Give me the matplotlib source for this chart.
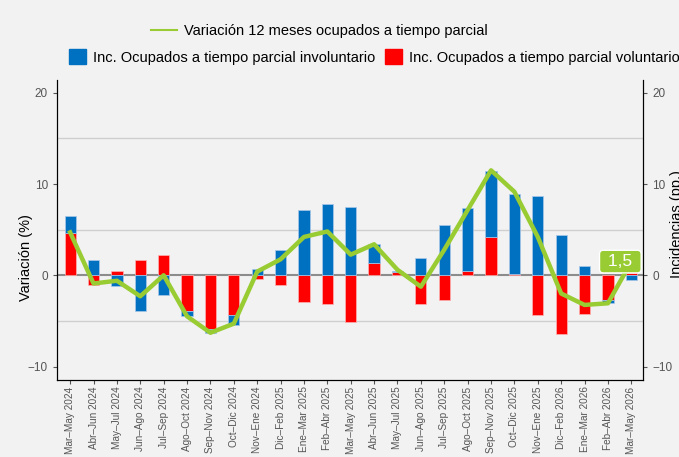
import numpy as np
import matplotlib.pyplot as plt
from matplotlib.lines import Line2D
from matplotlib.patches import Patch

plt.rcParams['font.family'] = ['Liberation Sans', 'DejaVu Sans']

periodos = ['Mar–May 2024', 'Abr–Jun 2024', 'May–Jul 2024', 'Jun–Ago 2024',
            'Jul–Sep 2024', 'Ago–Oct 2024', 'Sep–Nov 2024', 'Oct–Dic 2024',
            'Nov–Ene 2024', 'Dic–Feb 2025', 'Ene–Mar 2025', 'Feb–Abr 2025',
            'Mar–May 2025', 'Abr–Jun 2025', 'May–Jul 2025', 'Jun–Ago 2025',
            'Jul–Sep 2025', 'Ago–Oct 2025', 'Sep–Nov 2025', 'Oct–Dic 2025',
            'Nov–Ene 2025', 'Dic–Feb 2026', 'Ene–Mar 2026', 'Feb–Abr 2026',
            'Mar–May 2026']

involuntario = [1.9, 1.7, -1.2, -3.9, -2.2, -0.6, -0.4, -1.05, 0.7, 2.8,
                7.1, 7.85, 7.45, 2.1, 0.15, 1.85, 5.5, 6.9, 7.2, 8.75,
                8.65, 4.45, 1.0, -0.3, -0.5]

voluntario = [4.6, -1.1, 0.5, 1.7, 2.2, -3.9, -5.9, -4.35, -0.45, -1.1,
              -2.9, -3.1, -5.15, 1.3, 0.35, -3.1, -2.75, 0.45, 4.2, 0.15,
              -4.4, -6.4, -4.25, -2.7, 0.2]

variacion = [4.7, -0.9, -0.6, -2.3, 0.0, -4.5, -6.3, -5.3, 0.4, 1.75,
             4.2, 4.8, 2.26, 3.4, 0.6, -1.25, 2.8, 7.15, 11.5, 9.15,
             4.2, -2.0, -3.25, -3.07, 1.5]

etiqueta_final = '1,5'

azul = '#0070C0'
rojo = '#FF0000'
verde = '#99CC33'
fondo = '#F2F2F2'

x = np.arange(len(periodos))
inv = np.array(involuntario)
vol = np.array(voluntario)
base_inv = np.where(np.sign(inv) == np.sign(vol), vol, 0)

fig = plt.figure(figsize=(6.79, 4.57), dpi=100, facecolor=fondo)
ax = fig.add_axes([0.084, 0.168, 0.863, 0.657], facecolor=fondo)

for yv in [-5, 5, 15]:
    ax.axhline(yv, color='#CFCFCF', lw=1.0, zorder=0)
ax.axhline(0, color='#8C8C8C', lw=1.5, zorder=1)

ax.bar(x, vol, width=0.48, color=rojo, edgecolor='#FFB3B3', lw=0.5, zorder=2)
ax.bar(x, inv, width=0.48, bottom=base_inv, color=azul, edgecolor='#A9C8EA',
       lw=0.5, zorder=2)
ax.plot(x, variacion, color=verde, lw=3.2, zorder=3)

# etiqueta del ultimo valor, tapa el final de la linea
ax.text(x[-1] - 0.47, variacion[-1], ' ' + etiqueta_final + ' ', color='white',
        fontsize=12.5, ha='center', va='center', zorder=4,
        bbox=dict(boxstyle='round,pad=0.22', fc=verde, ec='white', lw=1))

ax.set_xlim(-0.56, 24.5)
ax.set_ylim(-11.5, 21.4)
ax.set_yticks([-10, 0, 10, 20])
ax.set_xticks(x)
ax.set_xticklabels(periodos, rotation=90, fontsize=7.2, color='#4D4D4D')
ax.tick_params(axis='y', labelsize=8.5, colors='#555555', length=3)
ax.tick_params(axis='x', length=3, pad=1.5, colors='#555555')
ax.set_ylabel('Variación (%)', fontsize=10.5)
ax.yaxis.set_label_coords(-0.041, 0.41)
ax.spines['top'].set_visible(False)
for s in ['left', 'bottom', 'right']:
    ax.spines[s].set_color('black')

ax2 = ax.twinx()
ax2.set_ylim(ax.get_ylim())
ax2.set_yticks([-10, 0, 10, 20])
ax2.tick_params(axis='y', labelsize=8.5, colors='#555555', length=3)
ax2.set_ylabel('Incidencias (pp.)', fontsize=10.5)
ax2.yaxis.set_label_coords(1.046, 0.52)
ax2.spines['top'].set_visible(False)

h_linea = [Line2D([0], [0], color=verde, lw=1.5)]
fig.legend(handles=h_linea, labels=['Variación 12 meses ocupados a tiempo parcial'],
           loc='center', bbox_to_anchor=(0.4705, 0.932), frameon=False,
           fontsize=10.5, handlelength=1.75, handletextpad=0.5)
h_barras = [Patch(color=azul), Patch(color=rojo)]
fig.legend(handles=h_barras,
           labels=['Inc. Ocupados a tiempo parcial involuntario',
                   'Inc. Ocupados a tiempo parcial voluntario'],
           loc='center', bbox_to_anchor=(0.551, 0.875), frameon=False,
           fontsize=10.5, ncol=2, handlelength=1.15, handleheight=1.2,
           columnspacing=0.7, handletextpad=0.48)

fig.savefig('out.png', dpi=100, facecolor=fondo)
